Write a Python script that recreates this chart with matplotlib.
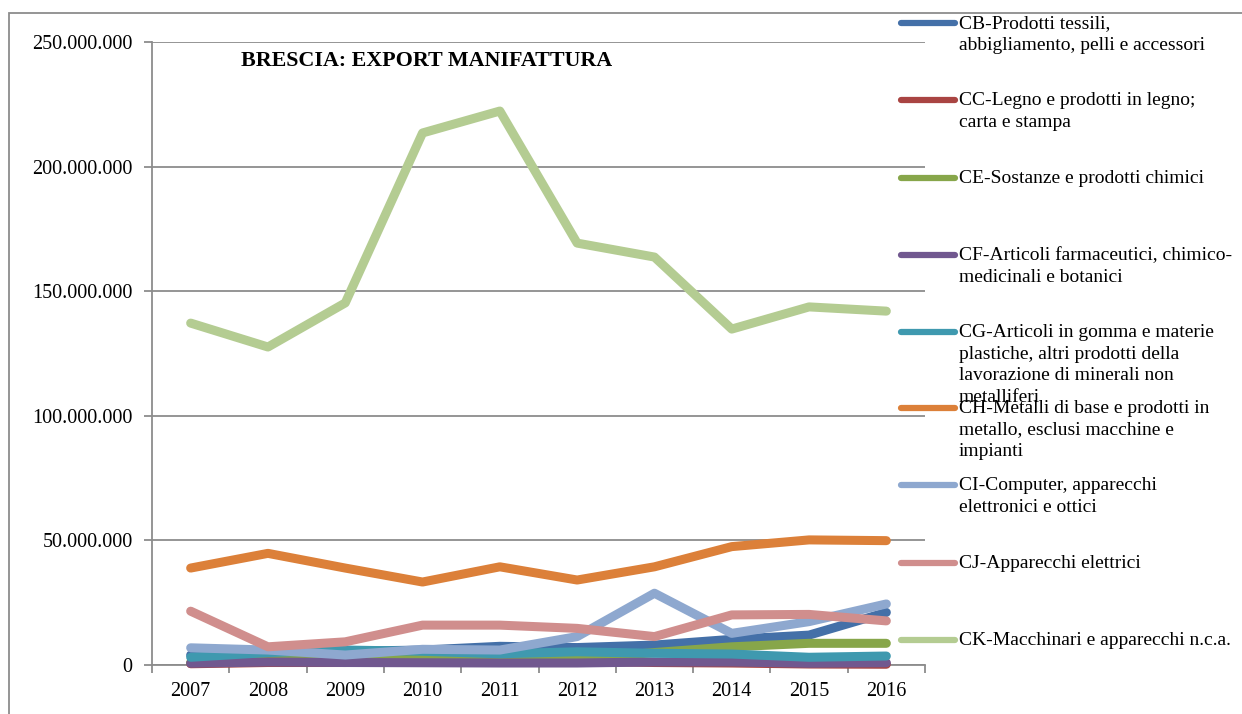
import matplotlib
matplotlib.use("Agg")
import matplotlib.pyplot as plt
from matplotlib.lines import Line2D
from matplotlib.patches import Rectangle
from matplotlib.ticker import FuncFormatter, MultipleLocator, FixedLocator

plt.rcParams['font.family'] = ['Liberation Serif', 'DejaVu Serif']

years = ['2007', '2008', '2009', '2010', '2011', '2012', '2013', '2014', '2015', '2016']

cb = [4.0e6, 5.0e6, 5.5e6, 6.0e6, 7.5e6, 7.0e6, 8.0e6, 10.3e6, 12.0e6, 21.1e6]
cc = [0.5e6, 1.0e6, 1.0e6, 1.5e6, 2.0e6, 1.5e6, 1.0e6, 0.8e6, 0.4e6, 0.3e6]
ce = [1.0e6, 2.0e6, 2.5e6, 3.1e6, 3.0e6, 2.4e6, 5.0e6, 7.3e6, 8.7e6, 8.7e6]
cf = [0.7e6, 1.2e6, 1.0e6, 0.9e6, 0.8e6, 0.8e6, 1.2e6, 1.2e6, 0.7e6, 0.9e6]
cg = [3.1e6, 5.0e6, 6.0e6, 5.5e6, 4.5e6, 5.3e6, 4.7e6, 4.4e6, 3.1e6, 3.6e6]
ch = [38.9e6, 44.8e6, 38.9e6, 33.3e6, 39.4e6, 34.1e6, 39.4e6, 47.5e6, 50.2e6, 49.9e6]
ci = [6.9e6, 6.0e6, 4.0e6, 6.3e6, 6.0e6, 11.4e6, 28.8e6, 12.7e6, 17.4e6, 24.5e6]
cj = [21.6e6, 7.3e6, 9.3e6, 16.0e6, 16.0e6, 14.7e6, 11.4e6, 20.1e6, 20.3e6, 17.7e6]
ck = [137.2e6, 127.6e6, 145.3e6, 213.5e6, 222.3e6, 169.3e6, 163.7e6, 134.8e6, 143.7e6, 142.0e6]

series_labels = [
    'CB-Prodotti tessili,\nabbigliamento, pelli e accessori',
    'CC-Legno e prodotti in legno;\ncarta e stampa',
    'CE-Sostanze e prodotti chimici',
    'CF-Articoli farmaceutici, chimico-\nmedicinali e botanici',
    'CG-Articoli in gomma e materie\nplastiche, altri prodotti della\nlavorazione di minerali non\nmetalliferi',
    'CH-Metalli di base e prodotti in\nmetallo, esclusi macchine e\nimpianti',
    'CI-Computer, apparecchi\nelettronici e ottici',
    'CJ-Apparecchi elettrici',
    'CK-Macchinari e apparecchi n.c.a.',
]
series_values = [cb, cc, ce, cf, cg, ch, ci, cj, ck]
colors = ['#4470A8', '#A94442', '#87A64A', '#71588F', '#3F99AF',
          '#DC8039', '#8EA8CF', '#D08E8D', '#B4CC92']

W, H = 1242, 714
fig = plt.figure(figsize=(W / 100, H / 100), dpi=100)

# outer chart border
fig.patches.append(Rectangle((9 / W, -0.1), 1.2, 1 - 13 / H + 0.1,
                             transform=fig.transFigure, fill=False,
                             edgecolor='#8c8c8c', linewidth=1.3, zorder=0))

left, right, bottom, top = 152 / W, 925 / W, 1 - 665 / H, 1 - 42 / H
ax = fig.add_axes([left, bottom, right - left, top - bottom])
ax.set_facecolor('none')

x = list(range(len(years)))
for vals, col in zip(series_values, colors):
    ax.plot(x, vals, color=col, linewidth=6.5, solid_capstyle='round',
            solid_joinstyle='round', clip_on=False, zorder=3)

ax.set_xlim(-0.5, len(years) - 0.5)
ax.set_ylim(0, 250e6)
ax.yaxis.set_major_locator(MultipleLocator(50e6))
ax.yaxis.set_major_formatter(FuncFormatter(lambda v, p: f"{int(v):,}".replace(',', '.')))
ax.grid(axis='y', color='#8c8c8c', linewidth=1.3, zorder=1)
ax.set_axisbelow(True)

ax.xaxis.set_major_locator(FixedLocator([i - 0.5 for i in range(len(years) + 1)]))
ax.xaxis.set_major_formatter(FuncFormatter(lambda v, p: ''))
ax.xaxis.set_minor_locator(FixedLocator(x))
ax.set_xticklabels(years, minor=True)
ax.tick_params(axis='x', which='minor', length=0, pad=12, labelsize=14.5)
ax.tick_params(axis='x', which='major', length=6, width=1.3, color='#8c8c8c')
ax.tick_params(axis='y', length=6, width=1.3, color='#8c8c8c', pad=8, labelsize=14.5)

for s in ['top', 'right']:
    ax.spines[s].set_visible(False)
for s in ['left', 'bottom']:
    ax.spines[s].set_color('#8c8c8c')
    ax.spines[s].set_linewidth(1.3)
    ax.spines[s].set_zorder(2)

ax.text(427 / W, 1 - 61 / H, 'BRESCIA: EXPORT MANIFATTURA', transform=fig.transFigure,
        ha='center', va='center', fontsize=15.8, fontweight='bold')

# legend (manual, Excel-like layout overlapping plot)
entry_y = [23, 100, 178, 255, 332, 408, 485, 563, 640]
for lab, col, yy in zip(series_labels, colors, entry_y):
    yf = 1 - yy / H
    fig.add_artist(Line2D([901 / W, 955 / W], [yf, yf], transform=fig.transFigure,
                          color=col, linewidth=4.5, solid_capstyle='round', zorder=5))
    fig.text(959 / W, 1 - (yy - 8) / H, lab, ha='left', va='top',
             fontsize=14, linespacing=1.35, zorder=6)

fig.savefig('out.png', dpi=100)
